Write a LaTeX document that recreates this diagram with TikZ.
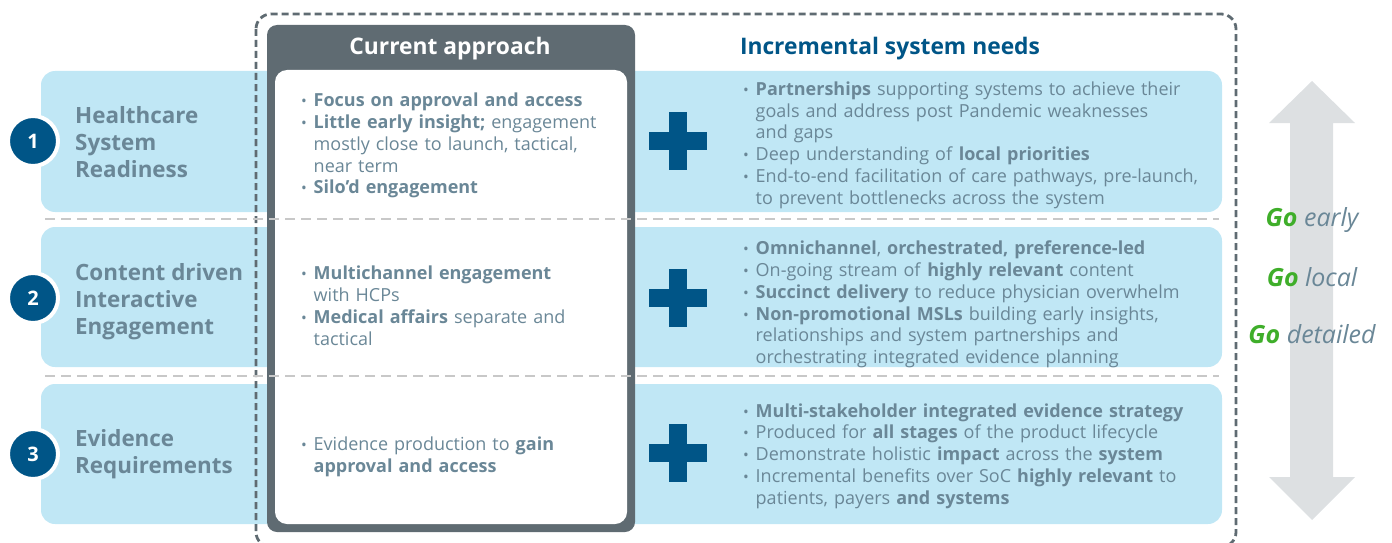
\documentclass[tikz,border=0pt]{standalone}
\usepackage{fontspec}
\IfFontExistsTF{Open Sans Bold}{%
  \setmainfont{Open Sans}[BoldFont={Open Sans Bold},ItalicFont={Open Sans Italic},BoldItalicFont={Open Sans Bold Italic}]}{%
  \setmainfont{Open Sans}[BoldFont={Open Sans},BoldFeatures={FakeBold=2.5}]}
\usepackage{graphicx}
\definecolor{rowblue}{HTML}{C0E7F5}
\definecolor{deepblue}{HTML}{005587}
\definecolor{slate}{HTML}{5F6B72}
\definecolor{bodytxt}{HTML}{6A8797}
\definecolor{sepgray}{HTML}{C8C8C8}
\definecolor{arrowgray}{HTML}{DDE0E2}
\definecolor{gogreen}{HTML}{3FAE2A}
\newcommand{\bitem}[1]{\par\hangindent=12.5pt\hangafter=1\noindent\makebox[12.5pt][l]{\scalebox{0.85}{•}}#1}
\begin{document}
\begin{tikzpicture}[x=1pt,y=-1pt,
  rowbox/.style={fill=rowblue,rounded corners=14pt},
  rowtitle/.style={anchor=west,align=left,inner sep=0pt,text=bodytxt,
    font=\fontsize{22.4}{27}\selectfont\bfseries},
  bullets/.style={anchor=west,inner sep=0pt,text=bodytxt,align=left,
    font=\fontsize{18}{21.8}\selectfont},
  numdot/.style={circle,fill=deepblue,draw=white,line width=4pt,minimum size=50pt,
    inner sep=0pt,text=white,font=\fontsize{20}{24}\selectfont\bfseries},
  plusarm/.style={fill=deepblue},
  sepline/.style={draw=sepgray,line width=2pt,dash pattern=on 10pt off 6pt},
  heading/.style={font=\fontsize{22.8}{27}\selectfont\bfseries},
  golabel/.style={text=bodytxt,font=\fontsize{25}{30}\selectfont\itshape}]
\useasboundingbox (0,0) rectangle (1392,543);

% row bands
\path[rowbox] (41,71) rectangle (1222,212);
\path[rowbox] (41,227) rectangle (1222,367);
\path[rowbox] (41,384) rectangle (1222,524);

% dashed frame around both columns
\draw[slate,line width=2.8pt,dash pattern=on 7pt off 4pt,rounded corners=15pt]
  (256,14) rectangle (1236,547);

% current approach panel
\fill[slate,rounded corners=10pt] (267,25) rectangle (635,532);
\fill[white,rounded corners=12pt] (275,70) rectangle (627,524);

% row separators
\draw[sepline] (45,219) -- (1219,219);
\draw[sepline] (45,376) -- (1219,376);

% column headings
\node[heading,text=white] (hcur) at (450,48.5) {Current approach};
\node[heading,text=deepblue] (hinc) at (890,48.5) {Incremental system needs};

% numbered markers
\node[numdot] (n1) at (33,141) {1};
\node[numdot] (n2) at (33,298) {2};
\node[numdot] (n3) at (33,454) {3};

% row titles
\node[rowtitle] (t1) at (75,142) {Healthcare\\System\\Readiness};
\node[rowtitle] (t2) at (75,302) {Content driven\\Interactive\\Engagement};
\node[rowtitle] (t3) at (75,454) {Evidence\\Requirements};

% current approach bullets
\node[bullets,text width=330pt] (c1) at (301,141.5) {%
  \bitem{\textbf{Focus on approval and access}}
  \bitem{\textbf{Little early insight;} engagement\newline mostly close to launch, tactical,\newline near term}
  \bitem{\textbf{Silo’d engagement}}\par};
\node[bullets,text width=330pt] (c2) at (301,301.5) {%
  \bitem{\textbf{Multichannel engagement}\newline with HCPs}
  \bitem{\textbf{Medical affairs} separate and\newline tactical}\par};
\node[bullets,text width=330pt] (c3) at (301,453) {%
  \bitem{Evidence production to \textbf{gain}\newline \textbf{approval and access}}\par};

% plus signs
\foreach \py in {141,298,453}{
  \fill[plusarm] (649,\py-9) rectangle (707,\py+9);
  \fill[plusarm] (669,\py-29) rectangle (687,\py+29);
}

% incremental needs bullets
\node[bullets,text width=470pt] (r1) at (743,141) {%
  \bitem{\textbf{Partnerships} supporting systems to achieve their\newline goals and address post Pandemic weaknesses\newline and gaps}
  \bitem{Deep understanding of \textbf{local priorities}}
  \bitem{End-to-end facilitation of care pathways, pre-launch,\newline to prevent bottlenecks across the system}\par};
\node[bullets,text width=470pt] (r2) at (743,300.5) {%
  \bitem{\textbf{Omnichannel}, \textbf{orchestrated, preference-led}}
  \bitem{On-going stream of \textbf{highly relevant} content}
  \bitem{\textbf{Succinct delivery} to reduce physician overwhelm}
  \bitem{\textbf{Non-promotional MSLs} building early insights,\newline relationships and system partnerships and\newline orchestrating integrated evidence planning}\par};
\node[bullets,text width=470pt] (r3) at (743,452) {%
  \bitem{\textbf{Multi-stakeholder integrated evidence strategy}}
  \bitem{Produced for \textbf{all stages} of the product lifecycle}
  \bitem{Demonstrate holistic \textbf{impact} across the \textbf{system}}
  \bitem{Incremental benefits over SoC \textbf{highly relevant} to\newline patients, payers \textbf{and systems}}\par};

% double-headed arrow
\fill[arrowgray] (1312,81) -- (1355,123) -- (1333,123) -- (1333,477) -- (1355,477)
  -- (1312,520) -- (1269,477) -- (1290,477) -- (1290,123) -- (1269,123) -- cycle;

\node[golabel] (g1) at (1312,220) {\textbf{\textcolor{gogreen}{Go}} early};
\node[golabel] (g2) at (1312,277) {\textbf{\textcolor{gogreen}{Go}} local};
\node[golabel] (g3) at (1312,334) {\textbf{\textcolor{gogreen}{Go}} detailed};
\end{tikzpicture}
\end{document}
